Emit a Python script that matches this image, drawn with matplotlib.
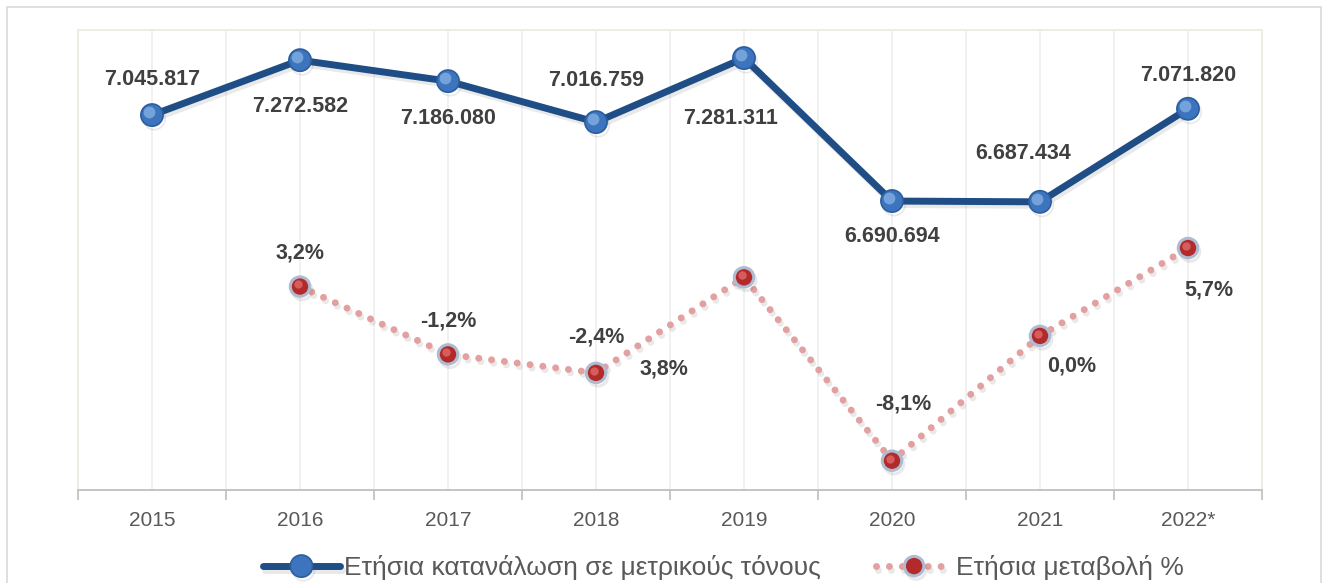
import matplotlib.pyplot as plt
import matplotlib.patheffects as pe
from matplotlib.patches import Rectangle
from matplotlib.transforms import ScaledTranslation
import numpy as np

years = ['2015', '2016', '2017', '2018', '2019', '2020', '2021', '2022*']
consumption = [7045817, 7272582, 7186080, 7016759, 7281311, 6690694, 6687434, 7071820]
change_pct = [np.nan, 3.2, -1.2, -2.4, 3.8, -8.1, 0.0, 5.7]

# label offsets in pixels (dx, dy), picked by eye
cons_off = [(0, 36), (0, -46), (0, -37), (0, 42), (-13, -60), (0, -35), (-17, 48), (0, 33)]
pct_off = [None, (0, 34), (0, 33), (0, 36), (-80, -92), (11, 57), (32, -30), (21, -42)]

plt.rcParams['font.family'] = ['Liberation Sans', 'DejaVu Sans']

fig = plt.figure(figsize=(13.23, 5.83), dpi=100)
ax = fig.add_axes([78 / 1323, 93 / 583, 1184 / 1323, 460 / 583])
ax2 = ax.twinx()

x = np.arange(len(years))
shadow = [pe.SimpleLineShadow(offset=(1.5, -2.5), shadow_color='#555555', alpha=0.13), pe.Normal()]

# series 1
l1, = ax.plot(x, consumption, color='#1F4E86', lw=5, solid_capstyle='round',
              marker='o', ms=16, mfc='#3C74BE', mec='#2C5E9E', mew=1.2,
              path_effects=shadow, zorder=3)
hl = ax.transData + ScaledTranslation(-2 / 72, 2 / 72, fig.dpi_scale_trans)
ax.plot(x, consumption, ls='none', marker='o', ms=8.5, mfc='#8DB6E6', mec='none',
        alpha=0.7, transform=hl, zorder=4)

# series 2
l2, = ax2.plot(x, change_pct, color='#E3A0A0', lw=5, ls=(0, (0.01, 1.85)),
               dash_capstyle='round', marker='o', ms=14, mfc='#B22A2A',
               mec='#AEBBD0', mew=2.2, path_effects=shadow, zorder=3)
hl2 = ax2.transData + ScaledTranslation(-1.5 / 72, 1.5 / 72, fig.dpi_scale_trans)
ax2.plot(x, change_pct, ls='none', marker='o', ms=6, mfc='#E57373', mec='none',
         alpha=0.7, transform=hl2, zorder=4)

lab_kw = dict(textcoords='offset pixels', ha='center', va='center',
              fontsize=15.5, fontweight='bold', color='#404040', zorder=6)
for i, v in enumerate(consumption):
    ax.annotate(f"{v:,}".replace(',', '.'), (x[i], v), xytext=cons_off[i], **lab_kw)
for i, v in enumerate(change_pct):
    if np.isnan(v):
        continue
    ax2.annotate(f"{v:.1f}%".replace('.', ','), (x[i], v), xytext=pct_off[i], **lab_kw)

ax.set_xlim(-0.5, len(years) - 0.5)
ax.set_ylim(5497000, 7397300)
ax2.set_ylim(-10.0, 19.85)

ax.set_xticks(np.arange(-0.5, len(years), 1.0))
ax.set_xticklabels([])
ax.set_xticks(x, minor=True)
ax.set_xticklabels(years, minor=True)
ax.tick_params(axis='x', which='major', length=7, width=1.2, color='#BFBFBF')
ax.tick_params(axis='x', which='minor', length=0, pad=15, labelsize=15, labelcolor='#595959')
ax.grid(axis='x', which='both', color='#EFEFEF', lw=1.2)
ax.set_axisbelow(True)
ax.set_yticks([])
ax2.set_yticks([])

for s in ['top', 'left', 'right']:
    ax.spines[s].set_color('#EEECE1')
    ax.spines[s].set_linewidth(1.3)
ax.spines['bottom'].set_color('#BFBFBF')
ax.spines['bottom'].set_linewidth(1.3)
for s in ax2.spines.values():
    s.set_visible(False)

fig.patches.append(Rectangle((7 / 1323, -0.1), 1314 / 1323, 576 / 583 + 0.1,
                             transform=fig.transFigure, fill=False, ec='#D9D9D9', lw=1.2))

fig.legend([l1, l2], ['Ετήσια κατανάλωση σε μετρικούς τόνους', 'Ετήσια μεταβολή %'],
           loc='center', bbox_to_anchor=(0.547, 0.026), ncol=2, frameon=False,
           fontsize=19, labelcolor='#595959', handlelength=2.9, handletextpad=0.15,
           columnspacing=2.1, borderpad=0)

fig.savefig('out.png', dpi=100)
